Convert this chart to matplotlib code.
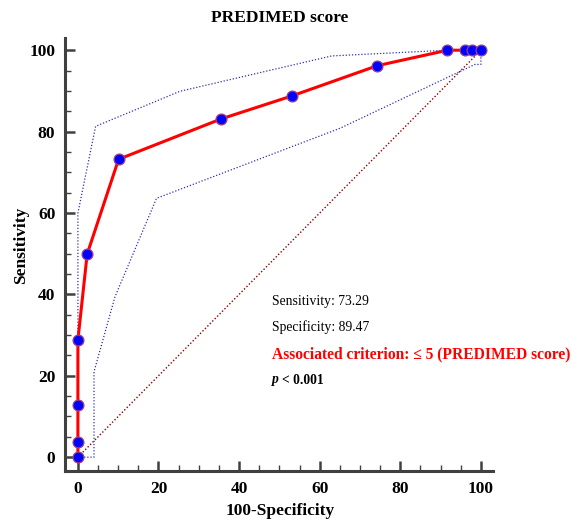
import matplotlib
matplotlib.use("Agg")
import matplotlib.pyplot as plt
from matplotlib.ticker import MultipleLocator

# ROC data (100-Specificity, Sensitivity)
fpr = [0, 0, 0, 0, 2.3, 10.1, 35.5, 53.2, 74.3, 91.7, 96.0, 97.9, 100]
tpr = [0, 3.7, 12.7, 28.8, 49.9, 73.2, 83.1, 88.8, 96.2, 100, 100, 100, 100]

# Confidence band
upper_x = [0, 0, 4.4, 25.3, 63.0, 91.7, 100]
upper_y = [0, 60, 81.3, 89.9, 98.6, 100, 100]
lower_x = [0, 4.0, 4.0, 9.2, 19.5, 65.0, 98.5, 100, 100]
lower_y = [0, 0, 21.0, 39.4, 63.6, 80.8, 96.5, 96.5, 100]

diag_x = [0, 100]
diag_y = [0, 100]

W, H = 571, 521
fig = plt.figure(figsize=(W / 100, H / 100), dpi=100)
ax = fig.add_axes([65 / W, 50 / H, (493 - 65) / W, (471 - 38) / H])

ax.plot(diag_x, diag_y, color="#8b0000", lw=1.0, ls=(0, (1, 1.5)), zorder=1)
ax.plot(upper_x, upper_y, color="#3030b0", lw=0.9, ls=(0, (1, 1.5)), zorder=1)
ax.plot(lower_x, lower_y, color="#3030b0", lw=0.9, ls=(0, (1, 1.5)), zorder=1)
ax.plot(fpr, tpr, color="#ff0000", lw=2.2, zorder=2)
ax.plot(fpr, tpr, ls="none", marker="o", ms=7.8, mfc="#0000ff",
        mec="#a04080", mew=0.9, zorder=3)

ax.set_xlim(-3.2, 103)
ax.set_ylim(-3.4, 103)
for s in ("top", "right"):
    ax.spines[s].set_visible(False)
for s in ("left", "bottom"):
    ax.spines[s].set_linewidth(2.2)
    ax.spines[s].set_color("#404040")

serif = "Liberation Serif"
ax.xaxis.set_major_locator(MultipleLocator(20))
ax.xaxis.set_minor_locator(MultipleLocator(5))
ax.yaxis.set_major_locator(MultipleLocator(20))
ax.yaxis.set_minor_locator(MultipleLocator(5))
ax.tick_params(which="major", direction="in", length=7, width=1.8, color="#404040",
               labelsize=12.5, pad=7)
ax.tick_params(which="minor", direction="in", length=4, width=1.0, color="#404040")
for lab in ax.get_xticklabels() + ax.get_yticklabels():
    lab.set_fontweight("bold")
    lab.set_family(serif)

fig.text(280 / W, 1 - 18 / H, "PREDIMED score", ha="center", va="center",
         fontsize=12.5, fontweight="bold", family=serif)
fig.text(280 / W, 1 - 511 / H, "100-Specificity", ha="center", va="center",
         fontsize=12.5, fontweight="bold", family=serif)
fig.text(21 / W, 1 - 245 / H, "Sensitivity", ha="center", va="center", rotation=90,
         fontsize=12.5, fontweight="bold", family=serif)

tx = 272 / W
fig.text(tx, 1 - 302 / H, "Sensitivity: 73.29", ha="left", va="center",
         fontsize=9.8, family=serif)
fig.text(tx, 1 - 327 / H, "Specificity: 89.47", ha="left", va="center",
         fontsize=9.8, family=serif)
fig.text(tx, 1 - 354 / H, "Associated criterion: \u2264 5 (PREDIMED score)", ha="left",
         va="center", fontsize=11.2, fontweight="bold", color="#ff0000", family=serif)
pt = fig.text(tx, 1 - 380 / H, "p", ha="left", va="center", fontsize=9.8,
              fontweight="bold", style="italic", family=serif)
fig.canvas.draw()
bb = pt.get_window_extent()
fig.text((bb.x1 + 3.5) / W, 1 - 380 / H, "< 0.001", ha="left", va="center",
         fontsize=9.8, fontweight="bold", family=serif)

fig.savefig("out.png", dpi=100)
